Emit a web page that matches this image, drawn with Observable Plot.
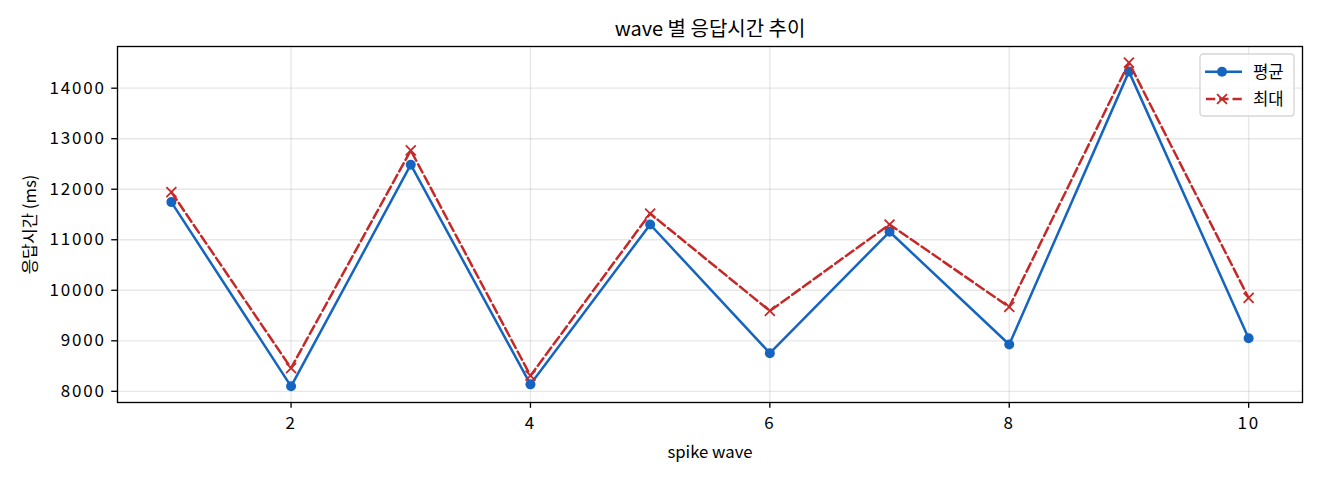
<!DOCTYPE html>
<html>
<head>
<meta charset="utf-8">
<script src="https://cdn.jsdelivr.net/npm/d3@7"></script>
<script src="https://cdn.jsdelivr.net/npm/@observablehq/plot@0.6"></script>
<style>
  html, body { margin: 0; padding: 0; background: white; }
  #chart svg { display: block; }
  g[aria-label="x-axis tick label"] text,
  g[aria-label="y-axis tick label"] text { letter-spacing: 1.8px; font-size: 17px; }
</style>
</head>
<body>
<div id="chart"></div>
<script>
const waves = [1, 2, 3, 4, 5, 6, 7, 8, 9, 10];
const meanMs = [11745, 8099, 12486, 8138, 11302, 8756, 11158, 8927, 14328, 9052];
const maxMs = [11943, 8460, 12769, 8310, 11519, 9591, 11302, 9670, 14505, 9848];
const xTicks = [2, 4, 6, 8, 10];
const yTicks = [8000, 9000, 10000, 11000, 12000, 13000, 14000];
const seriesNames = ["평균", "최대"];
const titleText = "wave 별 응답시간 추이";
const xLabel = "spike wave";
const yLabel = "응답시간 (ms)";

const blue = "#1565c0";
const red = "#c62828";
const font = "'Noto Sans CJK KR', 'Noto Sans', sans-serif";

const rows = waves.map((w, i) => ({ wave: w, mean: meanMs[i], max: maxMs[i] }));

function padded(values) {
  const lo = d3.min(values), hi = d3.max(values), m = (hi - lo) * 0.05;
  return [lo - m, hi + m];
}
const xDom = padded(waves);
const yDom = padded(meanMs.concat(maxMs));

const chart = Plot.plot({
  width: 1320,
  height: 480,
  marginLeft: 117,
  marginRight: 18,
  marginTop: 46,
  marginBottom: 78,
  style: { fontFamily: font, fontSize: "16.7px", color: "#000", background: "white" },
  x: { domain: xDom },
  y: { domain: yDom },
  marks: [
    Plot.gridX(xTicks, { stroke: "#b0b0b0", strokeOpacity: 0.3, strokeWidth: 1.33 }),
    Plot.gridY(yTicks, { stroke: "#b0b0b0", strokeOpacity: 0.3, strokeWidth: 1.33 }),
    Plot.line(rows, { x: "wave", y: "mean", stroke: blue, strokeWidth: 2.5 }),
    Plot.dot(rows, { x: "wave", y: "mean", fill: blue, r: 5 }),
    Plot.line(rows, { x: "wave", y: "max", stroke: red, strokeWidth: 2.5, strokeDasharray: "9.25,4" }),
    Plot.dot(rows, { x: "wave", y: "max", symbol: "times", stroke: red, strokeWidth: 1.8, r: 4.6 }),
    Plot.frame({ stroke: "black", strokeWidth: 1.33 }),
    Plot.axisX(xTicks, { tickSize: 5.8, tickPadding: 9, tickFormat: d3.format("d"), label: null, strokeWidth: 1.33 }),
    Plot.axisY(yTicks, { tickSize: 5.8, tickPadding: 6, tickFormat: d3.format("d"), label: null, strokeWidth: 1.33 }),
    Plot.text([titleText], { frameAnchor: "top", dy: -17, fontSize: 20, lineAnchor: "middle" }),
    Plot.text([xLabel], { frameAnchor: "bottom", dy: 50, fontSize: 16.7, lineAnchor: "middle" }),
    Plot.text([yLabel], { frameAnchor: "left", dx: -87, rotate: -90, fontSize: 16.7, lineAnchor: "middle", textAnchor: "middle" })
  ]
});

// Legend (inside the upper-right of the plot area)
const svg = d3.select(chart);
const lg = svg.append("g").attr("transform", "translate(1200,54)").attr("text-anchor", "start");
lg.append("rect").attr("width", 94).attr("height", 62).attr("rx", 3)
  .attr("fill", "white").attr("fill-opacity", 0.8)
  .attr("stroke", "#d6d6d6").attr("stroke-width", 1.33);
const styles = [
  { color: blue, dash: null, marker: "circle" },
  { color: red, dash: "9.25,4", marker: "times" }
];
seriesNames.forEach((name, i) => {
  const y = 17.7 + i * 27.3;
  const s = styles[i];
  const ln = lg.append("line").attr("x1", 5).attr("x2", 42).attr("y1", y).attr("y2", y)
    .attr("stroke", s.color).attr("stroke-width", 2.5);
  if (s.dash) ln.attr("stroke-dasharray", s.dash).attr("stroke-dashoffset", -1);
  if (s.marker === "circle") {
    lg.append("circle").attr("cx", 22).attr("cy", y).attr("r", 5).attr("fill", s.color);
  } else {
    lg.append("path").attr("d", d3.symbol(d3.symbolTimes, Math.PI * 4.6 * 4.6)())
      .attr("transform", `translate(22,${y})`)
      .attr("fill", "none").attr("stroke", s.color).attr("stroke-width", 1.8);
  }
  lg.append("text").attr("x", 53).attr("y", y).attr("dy", "0.35em").attr("text-anchor", "start")
    .attr("font-family", font).attr("font-size", 16.7).attr("fill", "#000").text(name);
});

document.getElementById("chart").appendChild(chart);
</script>
</body>
</html>
